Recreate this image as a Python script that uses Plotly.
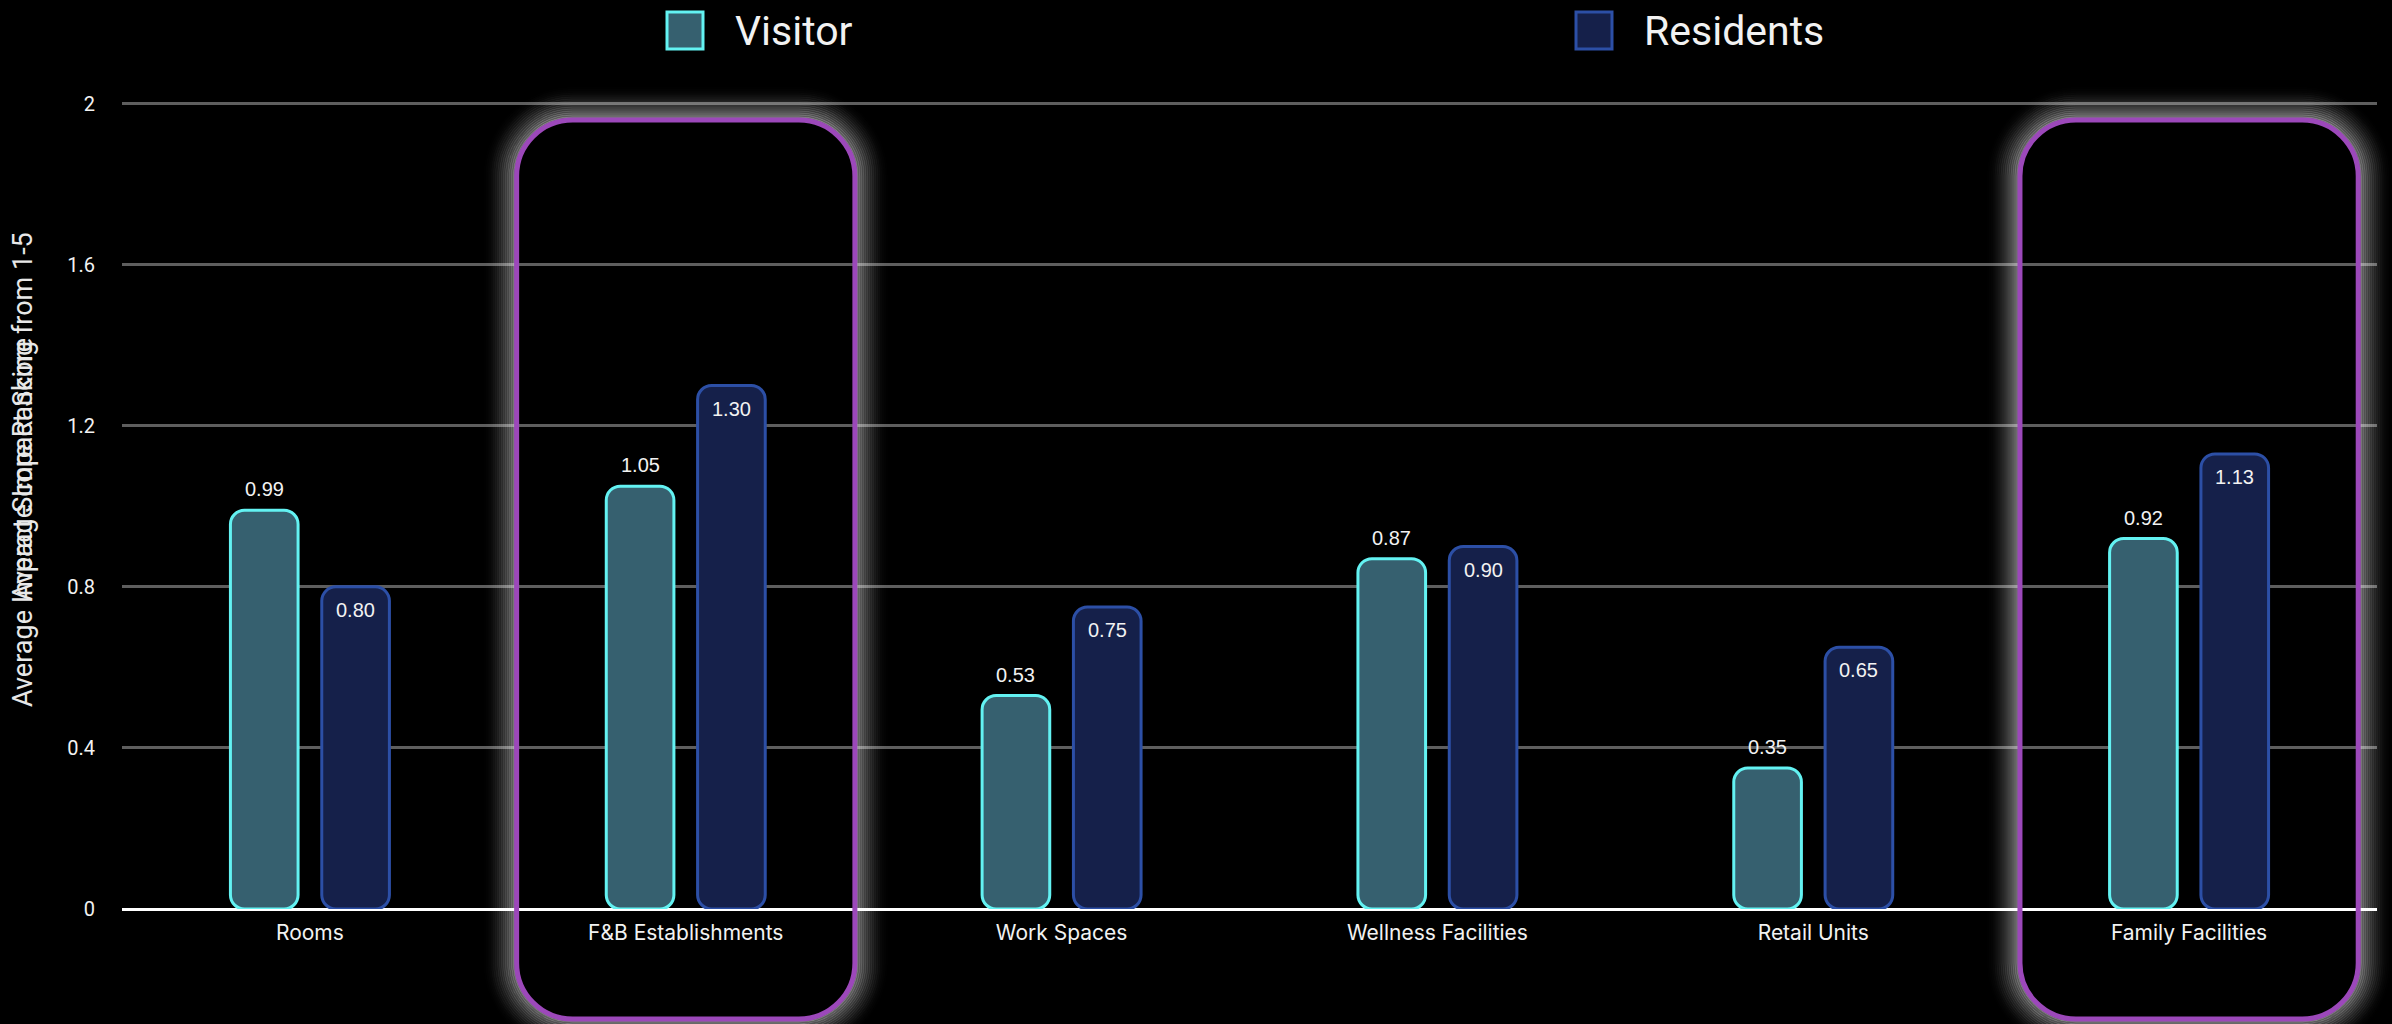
import plotly.graph_objects as go

# ---- data -----------------------------------------------------------------
categories = ["Rooms", "F&B Establishments", "Work Spaces",
              "Wellness Facilities", "Retail Units", "Family Facilities"]
visitor = [0.99, 1.05, 0.53, 0.87, 0.35, 0.92]
residents = [0.80, 1.30, 0.75, 0.90, 0.65, 1.13]
series_names = ["Visitor", "Residents"]
highlighted = ["F&B Establishments", "Family Facilities"]
y_ticks = [0, 0.4, 0.8, 1.2, 1.6, 2]
y_tick_labels = ["0", "0.4", "0.8", "1.2", "1.6", "2"]
axis_titles = ["Average Impact Score Ranking from 1-5", "Average Impact Score"]

# ---- geometry / styling -----------------------------------------------------
W, H = 2392, 1024
ML, MR, MT, MB = 122, 15, 102, 115
PW, PH = W - ML - MR, H - MT - MB
CAT_W = PW / len(categories)          # pixels per category

BAR_W = 0.18                          # bar width, category units
BAR_SHIFT = 0.1215                    # bar centre offset from category centre
OUTLINE = 3
RADIUS = 14

VIS_FILL, VIS_LINE = "#36606F", "#63F2F2"
RES_FILL, RES_LINE = "#15204A", "#2C4FA6"
BOX_COLOR = "#9C48BA"
TEXT = "#F2F2F2"
VALUE_FONT = dict(family="Liberation Sans, Arial", size=20, color=TEXT)


def to_paper(px, py):
    return (px - ML) / PW, (H - MB - py) / PH


def rounded_rect_path(x0, y0, x1, y1, r):
    """Rounded rectangle given in pixel space, returned as a paper-space path."""
    k = 0.5523 * r
    pts = [
        ("M", [(x0 + r, y0)]),
        ("L", [(x1 - r, y0)]),
        ("C", [(x1 - r + k, y0), (x1, y0 + r - k), (x1, y0 + r)]),
        ("L", [(x1, y1 - r)]),
        ("C", [(x1, y1 - r + k), (x1 - r + k, y1), (x1 - r, y1)]),
        ("L", [(x0 + r, y1)]),
        ("C", [(x0 + r - k, y1), (x0, y1 - r + k), (x0, y1 - r)]),
        ("L", [(x0, y0 + r)]),
        ("C", [(x0, y0 + r - k), (x0 + r - k, y0), (x0 + r, y0)]),
    ]
    out = []
    for cmd, coords in pts:
        segs = []
        for (px, py) in coords:
            a, b = to_paper(px, py)
            segs.append(f"{a:.5f},{b:.5f}")
        out.append(cmd + " " + " ".join(segs))
    return " ".join(out) + " Z"


fig = go.Figure()

# bars with an explicit base get rounded corners at both ends
for values, name, fill, edge, shift in [
    (visitor, series_names[0], VIS_FILL, VIS_LINE, -BAR_SHIFT),
    (residents, series_names[1], RES_FILL, RES_LINE, BAR_SHIFT),
]:
    fig.add_trace(go.Bar(
        x=categories, y=values, base=0, name=name,
        width=BAR_W, offset=shift - BAR_W / 2,
        marker=dict(color=fill, line=dict(color=edge, width=OUTLINE),
                    cornerradius=RADIUS),
        showlegend=False,
    ))

shapes = []
annotations = []

# value labels: above the visitor bars, inside the top of resident bars
for cat, v in zip(categories, visitor):
    annotations.append(dict(
        x=cat, y=v, xref="x", yref="y", text=f"{v:.2f}", showarrow=False,
        xshift=-BAR_SHIFT * CAT_W, yshift=21, yanchor="middle",
        font=VALUE_FONT))
for cat, v in zip(categories, residents):
    annotations.append(dict(
        x=cat, y=v, xref="x", yref="y", text=f"{v:.2f}", showarrow=False,
        xshift=BAR_SHIFT * CAT_W, yshift=-23, yanchor="middle",
        font=VALUE_FONT))

# highlight frames around selected categories, with a soft outer glow
for name in highlighted:
    i = categories.index(name)
    cx = ML + (i + 0.5) * CAT_W
    x0, x1 = cx - 0.45 * CAT_W, cx + 0.45 * CAT_W
    y0, y1 = 120, 1019
    r = 56
    for d in range(2, 34, 2):
        a = 0.45 * (1 - d / 34) ** 1.8
        shapes.append(dict(
            type="path", xref="paper", yref="paper",
            path=rounded_rect_path(x0 - d, y0 - d, x1 + d, y1 + d, r + d),
            line=dict(color=f"rgba(255,255,255,{a:.3f})", width=2.4),
            fillcolor="rgba(0,0,0,0)", layer="above",
        ))
    shapes.append(dict(
        type="path", xref="paper", yref="paper",
        path=rounded_rect_path(x0, y0, x1, y1, r),
        line=dict(color=BOX_COLOR, width=5),
        fillcolor="rgba(0,0,0,0)", layer="above",
    ))

# legend swatches and labels
legend_items = [
    (series_names[0], VIS_FILL, VIS_LINE, 667),
    (series_names[1], RES_FILL, RES_LINE, 1576),
]
for label, fill, edge, lx in legend_items:
    a0, b0 = to_paper(lx, 49)
    a1, b1 = to_paper(lx + 36, 12)
    shapes.append(dict(type="rect", xref="paper", yref="paper",
                       x0=a0, y0=b0, x1=a1, y1=b1,
                       fillcolor=fill, line=dict(color=edge, width=3)))
    tx, ty = to_paper(lx + 66, 31)
    annotations.append(dict(
        text=label, xref="paper", yref="paper", x=tx, y=ty,
        xanchor="left", yanchor="middle", showarrow=False,
        font=dict(family="Roboto", size=41, color=TEXT),
    ))

# two vertical axis titles sharing the same centre
tx, ty = to_paper(23, 470)
for title in axis_titles:
    annotations.append(dict(
        text=title, xref="paper", yref="paper", x=tx, y=ty,
        xanchor="center", yanchor="middle", textangle=-90, showarrow=False,
        font=dict(family="Roboto", size=27, color="#E8E8E8"),
    ))

fig.update_layout(
    width=W, height=H,
    margin=dict(l=ML, r=MR, t=MT, b=MB),
    paper_bgcolor="#000000", plot_bgcolor="#000000",
    barmode="overlay",
    shapes=shapes, annotations=annotations,
    showlegend=False,
    xaxis=dict(
        showgrid=False, showline=False, zeroline=False, ticks="",
        tickfont=dict(family="Inter", size=21, color=TEXT),
        ticklabelstandoff=9,
    ),
    yaxis=dict(
        range=[0, 2.004], tickvals=y_ticks, ticktext=y_tick_labels,
        showgrid=True, gridcolor="#5E5E5E", gridwidth=2.5,
        zeroline=True, zerolinecolor="#FFFFFF", zerolinewidth=3,
        showline=False, ticks="",
        tickfont=dict(family="Roboto", size=20, color=TEXT),
        ticklabelstandoff=26,
    ),
)

fig.write_html("out.html")
